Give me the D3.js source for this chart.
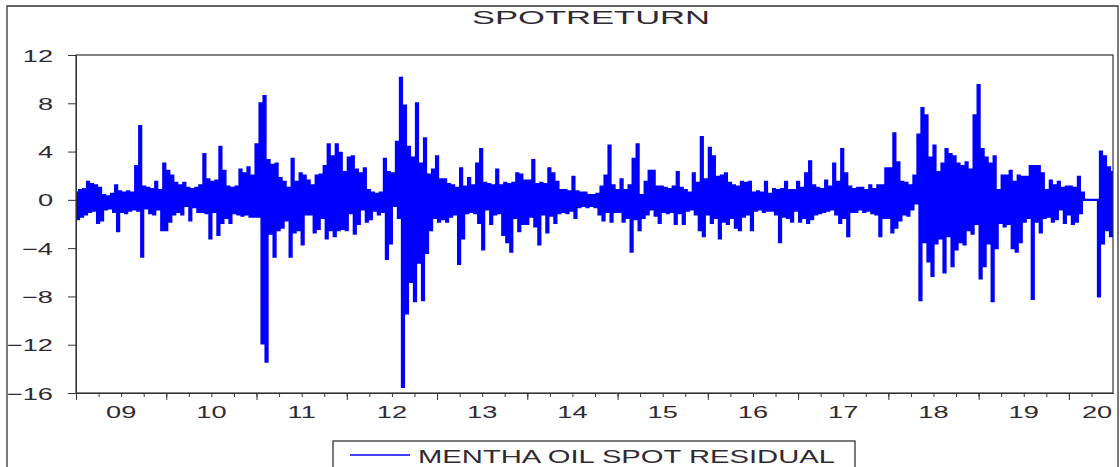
<!DOCTYPE html>
<html>
<head>
<meta charset="utf-8">
<script src="https://cdn.jsdelivr.net/npm/d3@7"></script>
<style>
body { margin: 0; background: #fff; }
#chart text { font-family: "Liberation Sans", Arial, sans-serif; fill: #2f2a33; }
</style>
</head>
<body>
<div id="chart"></div>
<script>
/* Residual series, one array per year, 45 samples per year (2020 stops mid year) */
var resid2009 = [0.6, -1.6, 0.8, -1.4, 0.9, -1.2, 1.5, -1.0, 1.3, -0.9, 1.2, -1.9, 1.0, -1.7, 0.4, -0.8, 0.3, -0.7, 0.5, -1.0,
	1.2, -2.6, 0.7, -1.0, 0.6, -1.1, 0.7, -0.9, 0.6, -0.8, 2.8, -0.9, 6.1, -4.7, 1.1, -0.7, 1.0, -1.1, 0.9, -1.2,
	1.5, -0.8, 0.8, -2.5, 3.0];
var resid2010 = [-2.5, 2.4, -1.8, 2.0, -1.2, 1.4, -1.0, 1.2, -1.2, 1.4, -0.5, 1.0, -1.7, 0.9, -0.6, 1.0, -1.0, 1.2, -1.0, 3.8,
	-1.1, 1.7, -3.2, 1.5, -1.0, 1.6, -2.9, 4.4, -1.9, 2.4, -1.5, 1.1, -1.9, 1.0, -1.1, 1.1, -1.2, 2.5, -1.3, 2.2,
	-1.2, 2.7, -1.4, 2.0, -1.4];
var resid2011 = [4.6, -1.4, 8.0, -11.9, 8.6, -13.4, 3.3, -2.8, 2.9, -4.7, 3.0, -2.5, 1.8, -2.3, 1.5, -1.7, 1.0, -4.7, 3.4, -2.7,
	1.5, -2.5, 2.2, -3.7, 2.0, -1.2, 1.6, -1.2, 1.2, -2.7, 2.0, -2.4, 2.1, -1.5, 2.8, -3.2, 4.6, -2.5, 3.6, -3.0,
	4.6, -2.5, 3.9, -2.4, 2.3];
var resid2012 = [-2.5, 3.5, -1.1, 3.6, -2.8, 2.5, -2.0, 2.2, -0.8, 2.6, -1.8, 0.8, -1.6, 0.6, -0.9, 0.5, -1.2, 0.6, -1.0, 3.4,
	-4.9, 2.3, -3.6, 2.2, -0.5, 4.8, -1.5, 10.1, -15.5, 7.8, -9.4, 4.4, -6.8, 3.5, -8.4, 8.0, -5.2, 3.0, -8.3, 5.1,
	-4.4, 2.1, -2.5, 2.5, -1.5];
var resid2013 = [3.6, -1.8, 1.7, -1.6, 1.7, -1.8, 1.3, -1.4, 1.2, -1.2, 1.0, -5.3, 2.6, -3.2, 1.1, -1.1, 1.8, -1.0, 1.2, -1.1,
	3.0, -1.9, 4.2, -4.1, 1.4, -0.8, 1.3, -2.0, 1.2, -1.2, 2.5, -1.1, 1.2, -2.9, 1.4, -3.5, 1.3, -4.3, 1.4, -1.5,
	2.2, -2.6, 2.1, -2.0, 1.6];
var resid2014 = [-2.0, 1.6, -1.4, 3.3, -2.2, 1.3, -3.7, 1.4, -1.2, 1.3, -2.7, 2.6, -1.3, 2.2, -1.9, 1.5, -1.1, 0.8, -1.0, 0.8,
	-1.1, 0.7, -0.9, 1.9, -1.5, 0.7, -0.6, 0.6, -0.5, 0.6, -0.6, 0.4, -0.5, 0.4, -0.6, 0.5, -1.2, 1.1, -1.7, 2.0,
	-1.0, 4.5, -1.8, 1.2, -1.0];
var resid2015 = [0.8, -1.0, 1.7, -1.8, 0.8, -1.5, 1.2, -4.3, 3.4, -1.6, 4.6, -2.5, 0.4, -1.5, 1.5, -1.2, 2.4, -0.8, 2.4, -1.3,
	1.1, -1.9, 1.1, -1.0, 1.0, -1.1, 0.9, -1.0, 1.1, -2.0, 2.3, -1.1, 1.0, -2.0, 0.8, -0.9, 0.6, -0.8, 2.2, -1.2,
	1.4, -2.5, 5.2, -3.0, 1.7];
var resid2016 = [-1.2, 4.3, -1.9, 3.6, -1.5, 1.9, -3.2, 2.0, -1.8, 2.2, -2.0, 1.4, -1.5, 1.2, -2.3, 1.1, -2.5, 1.5, -1.4, 1.4,
	-1.2, 1.5, -2.5, 0.6, -0.9, 0.7, -0.8, 0.6, -1.0, 1.5, -0.9, 0.5, -0.9, 0.9, -1.2, 0.8, -3.5, 0.9, -1.4, 1.5,
	-1.5, 0.8, -1.8, 0.8, -0.9];
var resid2017 = [1.5, -1.8, 1.0, -1.5, 2.2, -1.9, 3.2, -1.6, 1.2, -1.2, 1.0, -1.1, 0.9, -1.0, 1.6, -0.9, 1.1, -0.8, 3.0, -1.2,
	1.5, -1.9, 4.2, -1.5, 2.2, -3.0, 1.1, -1.0, 0.9, -1.0, 1.0, -0.8, 1.0, -1.0, 0.8, -0.9, 1.2, -1.1, 0.9, -1.2,
	1.2, -3.0, 1.2, -1.5, 2.6];
var resid2018 = [-1.5, 2.6, -2.7, 5.5, -2.3, 3.1, -1.7, 1.5, -1.2, 1.4, -1.3, 1.2, -0.8, 2.0, -0.3, 5.4, -8.3, 7.6, -3.5, 7.0,
	-5.1, 3.5, -6.3, 4.5, -3.6, 2.3, -3.2, 3.0, -6.0, 4.2, -3.0, 3.8, -5.5, 3.6, -4.1, 3.0, -3.5, 2.8, -3.7, 3.1,
	-2.5, 2.5, -2.8, 7.0, -2.0];
var resid2019 = [9.5, -6.5, 4.2, -5.5, 3.5, -3.6, 3.0, -8.4, 3.6, -4.0, 0.8, -1.9, 2.0, -2.2, 2.0, -2.0, 2.4, -4.0, 1.5, -4.3,
	2.0, -3.5, 1.9, -1.8, 1.9, -1.5, 2.8, -8.2, 2.8, -1.8, 2.8, -2.7, 2.2, -1.5, 0.8, -1.4, 1.6, -1.8, 1.2, -1.6,
	1.5, -0.8, 1.0, -1.9, 1.1];
var resid2020 = [-1.2, 1.1, -2.0, 1.0, -1.8, 1.9, -1.1, 0.6, 0, 0, 0, 0, 0, 0, 0, -8.0, 4.0, -3.6, 3.6, -2.5,
	2.7, -3.0, 2.3];

var years = [2009, 2010, 2011, 2012, 2013, 2014, 2015, 2016, 2017, 2018, 2019, 2020];
var yearLabels = ["09", "10", "11", "12", "13", "14", "15", "16", "17", "18", "19", "20"];
var yTicks = [-16, -12, -8, -4, 0, 4, 8, 12];
var perYear = 45;

var series = [resid2009, resid2010, resid2011, resid2012, resid2013, resid2014,
	resid2015, resid2016, resid2017, resid2018, resid2019, resid2020];

var data = [];
series.forEach(function (vals, k) {
	vals.forEach(function (v, i) {
		data.push({t: years[k] + i / perYear, v: v});
	});
});

var width = 1120,
	height = 467,
	plotL = 76, plotR = 1113, plotT = 55, plotB = 393,
	stretch = 1.6; // the picture is stretched sideways, text too

var x = d3.scaleLinear()
	.domain([years[0], d3.max(data, function (d) { return d.t; })])
	.range([plotL, plotR]);
var y = d3.scaleLinear()
	.domain([-16, 12])
	.range([plotB, plotT]);

var svg = d3.select("#chart").append("svg")
	.attr("width", width)
	.attr("height", height);

svg.append("rect")
	.attr("width", width).attr("height", height)
	.attr("fill", "#fff");

/* outer frame */
svg.append("path")
	.attr("d", "M7," + (height + 2) + "V6H1118V" + (height + 2))
	.attr("fill", "none")
	.attr("stroke", "#333")
	.attr("stroke-width", 1.3);

/* title */
svg.append("text")
	.attr("x", 591).attr("y", 24)
	.attr("text-anchor", "middle")
	.attr("textLength", 238)
	.attr("lengthAdjust", "spacingAndGlyphs")
	.style("font-size", "19px")
	.text("SPOTRETURN");

/* series line, drawn as steps so every move is a vertical spike */
svg.append("clipPath").attr("id", "clip")
	.append("rect")
	.attr("x", plotL).attr("y", plotT)
	.attr("width", plotR - plotL).attr("height", plotB - plotT);

svg.append("path")
	.datum(data)
	.attr("clip-path", "url(#clip)")
	.attr("fill", "none")
	.attr("stroke", "#0000ff")
	.attr("stroke-width", 2.2)
	.attr("d", d3.line()
		.curve(d3.curveStep)
		.x(function (d) { return x(d.t); })
		.y(function (d) { return y(d.v); }));

/* plot box */
svg.append("rect")
	.attr("x", plotL).attr("y", plotT)
	.attr("width", plotR - plotL).attr("height", plotB - plotT)
	.attr("fill", "none")
	.attr("stroke", "#333")
	.attr("stroke-width", 1.2);

/* y axis */
var yAxis = svg.append("g")
	.attr("transform", "translate(" + plotL + ",0)")
	.call(d3.axisLeft(y).tickValues(yTicks).tickSize(8).tickSizeOuter(0));
yAxis.attr("font-family", null).attr("font-size", null);
yAxis.select(".domain").attr("stroke", "#333");
yAxis.selectAll("line").attr("stroke", "#333");
yAxis.selectAll("text")
	.attr("x", null).attr("dy", null)
	.attr("transform", "translate(-23,6) scale(" + stretch + ",1)")
	.style("font-size", "17px");

/* x axis: quarter ticks and year ticks */
var quarters = d3.range(years[0] * 4, Math.floor(x.domain()[1] * 4) + 1).map(function (q) { return q / 4; });
var xMinor = svg.append("g")
	.attr("transform", "translate(0," + plotB + ")")
	.call(d3.axisBottom(x).tickValues(quarters).tickSize(4).tickSizeOuter(0).tickFormat(""));
var xMajor = svg.append("g")
	.attr("transform", "translate(0," + plotB + ")")
	.call(d3.axisBottom(x).tickValues(years).tickSize(7).tickSizeOuter(0).tickFormat(""));
[xMinor, xMajor].forEach(function (g) {
	g.selectAll("line").attr("stroke", "#333");
	g.select(".domain").attr("stroke", "#333");
});

/* year labels sit in the middle of each year, kept inside the plot */
svg.selectAll(".ylab")
	.data(years)
	.enter().append("text")
	.attr("class", "ylab")
	.attr("text-anchor", "middle")
	.attr("transform", function (d) {
		var mid = Math.min((x(d) + x(d + 1)) / 2, plotR - 16);
		return "translate(" + mid + ",418) scale(" + stretch + ",1)";
	})
	.style("font-size", "17px")
	.text(function (d, i) { return yearLabels[i]; });

/* legend */
var legend = svg.append("g");
legend.append("rect")
	.attr("x", 333).attr("y", 441)
	.attr("width", 522).attr("height", 40)
	.attr("fill", "#fff")
	.attr("stroke", "#333")
	.attr("stroke-width", 1.3);
legend.append("line")
	.attr("x1", 350).attr("x2", 410)
	.attr("y1", 455).attr("y2", 455)
	.attr("stroke", "#0000ff")
	.attr("stroke-width", 1.3);
legend.append("text")
	.attr("x", 418).attr("y", 463)
	.attr("textLength", 417)
	.attr("lengthAdjust", "spacingAndGlyphs")
	.style("font-size", "18px")
	.text("MENTHA OIL SPOT RESIDUAL");
</script>
</body>
</html>
